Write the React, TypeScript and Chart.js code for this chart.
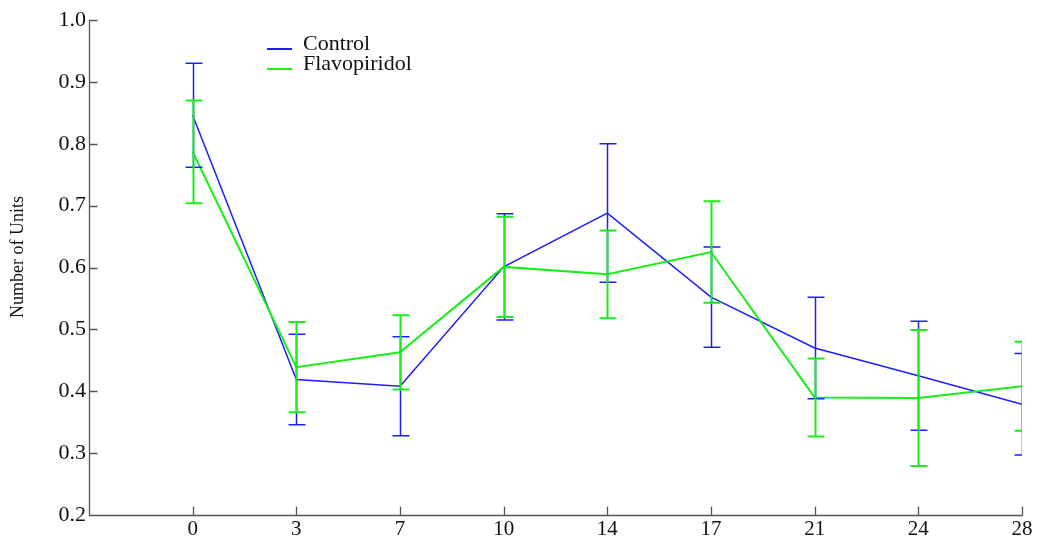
import React, { useEffect, useRef } from "react";
import { Chart, registerables } from "chart.js";

Chart.register(...registerables);

const categories = ["0", "3", "7", "10", "14", "17", "21", "24", "28"];
const controlMean = [0.846, 0.419, 0.408, 0.601, 0.688, 0.552, 0.47, 0.425, 0.379];
const controlErr = [0.084, 0.073, 0.08, 0.086, 0.112, 0.081, 0.082, 0.088, 0.082];
const flavoMean = [0.787, 0.439, 0.463, 0.601, 0.589, 0.625, 0.39, 0.389, 0.408];
const flavoErr = [0.083, 0.073, 0.06, 0.081, 0.071, 0.082, 0.063, 0.11, 0.072];
const yTicks = [0.2, 0.3, 0.4, 0.5, 0.6, 0.7, 0.8, 0.9, 1.0];

const BLUE = "rgb(30,30,250)";
const GREEN = "rgb(25,238,25)";
const AXIS = "#555555";
const FONT = "'Liberation Serif', 'DejaVu Serif', serif";

const errors = [controlErr, flavoErr];

const customPlugin = {
  id: "custom",
  afterDatasetsDraw(chart: any) {
    const ctx = chart.ctx;
    const xs = chart.scales.x;
    const ys = chart.scales.y;
    const area = chart.chartArea;
    ctx.save();
    ctx.beginPath();
    ctx.rect(area.left, area.top - 2, area.right - area.left, area.bottom - area.top + 4);
    ctx.clip();
    chart.data.datasets.forEach((ds: any, di: number) => {
      const err = errors[di];
      ctx.strokeStyle = ds.borderColor;
      ctx.lineWidth = ds.borderWidth;
      ds.data.forEach((p: any, i: number) => {
        const x = Math.round(xs.getPixelForValue(p.x)) + 0.5;
        const yt = ys.getPixelForValue(p.y + err[i]);
        const yb = ys.getPixelForValue(p.y - err[i]);
        ctx.beginPath();
        ctx.moveTo(x, yt);
        ctx.lineTo(x, yb);
        ctx.moveTo(x - 8, yt);
        ctx.lineTo(x + 9, yt);
        ctx.moveTo(x - 8, yb);
        ctx.lineTo(x + 9, yb);
        ctx.stroke();
      });
    });
    ctx.restore();
  },
  afterDraw(chart: any) {
    const ctx = chart.ctx;
    const xs = chart.scales.x;
    const ys = chart.scales.y;
    const area = chart.chartArea;
    ctx.save();
    ctx.strokeStyle = AXIS;
    ctx.lineWidth = 1.3;
    ctx.beginPath();
    const L = Math.round(area.left) + 0.5;
    const B = Math.round(area.bottom) + 0.5;
    ctx.moveTo(L, area.top);
    ctx.lineTo(L, B);
    ctx.lineTo(Math.round(area.right) + 0.5, B);
    yTicks.forEach((v) => {
      const y = Math.round(ys.getPixelForValue(v)) + 0.5;
      ctx.moveTo(L, y);
      ctx.lineTo(L + 8, y);
    });
    categories.forEach((_, i) => {
      const x = Math.round(xs.getPixelForValue(i)) + 0.5;
      ctx.moveTo(x, B);
      ctx.lineTo(x, B - 9);
    });
    ctx.stroke();

    // Y axis title
    ctx.fillStyle = "#111";
    ctx.font = `18px ${FONT}`;
    ctx.translate(18, 257);
    ctx.rotate(-Math.PI / 2);
    ctx.textAlign = "center";
    ctx.textBaseline = "middle";
    ctx.fillText("Number of Units", 0, 0);
    ctx.setTransform(1, 0, 0, 1, 0, 0);
    ctx.restore();

    // Legend
    ctx.save();
    ctx.font = `22px ${FONT}`;
    ctx.textBaseline = "alphabetic";
    ctx.textAlign = "left";
    const legendItems = [
      { label: chart.data.datasets[0].label, color: BLUE, y: 49 },
      { label: chart.data.datasets[1].label, color: GREEN, y: 69 },
    ];
    legendItems.forEach((it) => {
      ctx.strokeStyle = it.color;
      ctx.lineWidth = 2;
      ctx.beginPath();
      ctx.moveTo(267, it.y);
      ctx.lineTo(292, it.y);
      ctx.stroke();
      ctx.fillStyle = "#111";
      ctx.fillText(it.label, 303, it.y + 1);
    });
    ctx.restore();
  },
};

export default function App() {
  const ref = useRef<HTMLCanvasElement | null>(null);
  useEffect(() => {
    if (!ref.current) return;
    const chart = new Chart(ref.current, {
      type: "line",
      data: {
        datasets: [
          {
            label: "Control",
            data: controlMean.map((v, i) => ({ x: i, y: v })),
            borderColor: BLUE,
            backgroundColor: BLUE,
            borderWidth: 1.5,
            pointRadius: 0,
            tension: 0,
            order: 1,
          },
          {
            label: "Flavopiridol",
            data: flavoMean.map((v, i) => ({ x: i, y: v })),
            borderColor: GREEN,
            backgroundColor: GREEN,
            borderWidth: 2,
            pointRadius: 0,
            tension: 0,
            order: 0,
          },
        ],
      },
      options: {
        animation: false,
        responsive: false,
        maintainAspectRatio: false,
        devicePixelRatio: 1,
        layout: { padding: { left: 0, top: 20, right: 22, bottom: 0 } },
        plugins: {
          legend: { display: false },
          tooltip: { enabled: false },
          title: { display: false },
        },
        scales: {
          x: {
            type: "linear",
            min: -1,
            max: categories.length - 1,
            grid: { display: false, drawTicks: false },
            border: { display: false },
            afterFit: (s: any) => {
              s.height = 27;
            },
            afterBuildTicks: (s: any) => {
              s.ticks = categories.map((_, i) => ({ value: i }));
            },
            ticks: {
              autoSkip: false,
              maxRotation: 0,
              padding: 2,
              color: "#111",
              font: { family: FONT, size: 21 },
              callback: (v: any) => categories[Number(v)] ?? "",
            },
          },
          y: {
            type: "linear",
            min: 0.2,
            max: 1.0,
            grid: { display: false, drawTicks: false },
            border: { display: false },
            afterFit: (s: any) => {
              s.width = 89;
            },
            afterBuildTicks: (s: any) => {
              s.ticks = yTicks.map((v) => ({ value: v }));
            },
            ticks: {
              padding: 3,
              color: "#111",
              font: { family: FONT, size: 22 },
              callback: (v: any) => Number(v).toFixed(1),
            },
          },
        },
      },
      plugins: [customPlugin],
    });
    return () => chart.destroy();
  }, []);
  return (
    <div style={{ position: "absolute", left: 0, top: 0, width: 1044, height: 542, background: "#fff" }}>
      <canvas ref={ref} width={1044} height={542} style={{ display: "block" }} />
    </div>
  );
}
